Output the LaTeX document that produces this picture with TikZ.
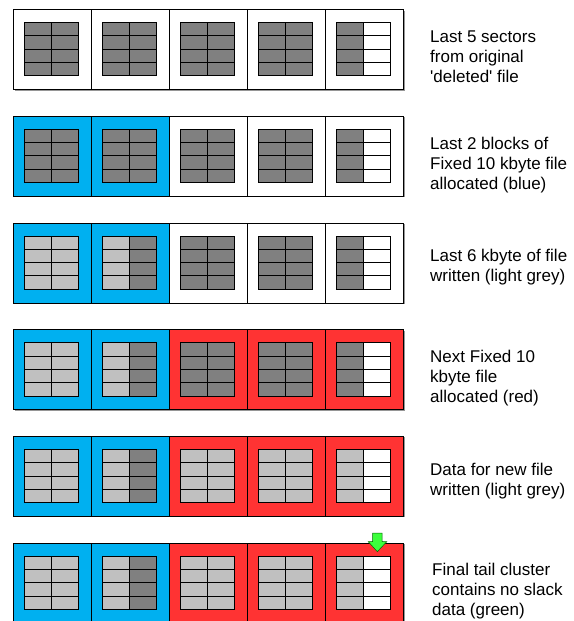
\documentclass[tikz,border=0pt]{standalone}
\usepackage{fontspec}
\setmainfont{Liberation Sans}[Ligatures=TeXOff]
\definecolor{cblue}{RGB}{0,176,240}
\definecolor{cred}{RGB}{255,51,51}
\definecolor{cdark}{RGB}{128,128,128}
\definecolor{clight}{RGB}{192,192,192}
\definecolor{cgreen}{RGB}{60,255,60}
\definecolor{cshadow}{RGB}{150,150,150}
\tikzset{
  cellbox/.style={draw=black, line width=0.9pt, minimum width=78pt, minimum height=80pt, inner sep=0pt, anchor=north west},
  gridline/.style={draw=black, line width=1pt},
  label/.style={anchor=base west, align=left, inner sep=0pt, font=\fontsize{17}{20}\selectfont},
  arrowshape/.style={fill=cgreen, draw=green!40!black, line width=0.5pt}
}
\newcommand\sectorcell[6]{%
  \pgfmathsetmacro\cx{13.3+78*#1}%
  \node[cellbox, fill=#3] (#6) at (\cx,#2) {};
  \fill[#4] (\cx+11,#2+13.3) rectangle ++(27,53.3);
  \fill[#5] (\cx+38,#2+13.3) rectangle ++(27,53.3);
  \draw[gridline] (\cx+11,#2+13.3) rectangle ++(54,53.3);
  \draw[gridline] (\cx+38,#2+13.3) -- ++(0,53.3);
  \foreach \k in {1,2,3} {\draw[gridline] (\cx+11,#2+13.3+13.33*\k) -- ++(54,0);}
}
\newcommand\rowshadow[1]{\fill[cshadow] (14.6,#1+1.3) rectangle ++(390,80);}
\begin{document}
\begin{tikzpicture}[x=1pt,y=-1pt]
\useasboundingbox (0,0) rectangle (573,621);
% Row 1
\def\T{9.3}
\rowshadow{\T}
\sectorcell{0}{\T}{white}{cdark}{cdark}{a1}
\sectorcell{1}{\T}{white}{cdark}{cdark}{a2}
\sectorcell{2}{\T}{white}{cdark}{cdark}{a3}
\sectorcell{3}{\T}{white}{cdark}{cdark}{a4}
\sectorcell{4}{\T}{white}{cdark}{white}{a5}
\node[label] (la) at (430,\T+73.4) {Last 5 sectors\\from original\\'deleted' file};
% Row 2
\def\T{116}
\rowshadow{\T}
\sectorcell{0}{\T}{cblue}{cdark}{cdark}{b1}
\sectorcell{1}{\T}{cblue}{cdark}{cdark}{b2}
\sectorcell{2}{\T}{white}{cdark}{cdark}{b3}
\sectorcell{3}{\T}{white}{cdark}{cdark}{b4}
\sectorcell{4}{\T}{white}{cdark}{white}{b5}
\node[label] (lb) at (430,\T+73.4) {Last 2 blocks of\\Fixed 10 kbyte file\\allocated (blue)};
% Row 3
\def\T{222.7}
\rowshadow{\T}
\sectorcell{0}{\T}{cblue}{clight}{clight}{c1}
\sectorcell{1}{\T}{cblue}{clight}{cdark}{c2}
\sectorcell{2}{\T}{white}{cdark}{cdark}{c3}
\sectorcell{3}{\T}{white}{cdark}{cdark}{c4}
\sectorcell{4}{\T}{white}{cdark}{white}{c5}
\node[label] (lc) at (430,\T+59) {Last 6 kbyte of file\\written (light grey)};
% Row 4
\def\T{329.4}
\rowshadow{\T}
\sectorcell{0}{\T}{cblue}{clight}{clight}{d1}
\sectorcell{1}{\T}{cblue}{clight}{cdark}{d2}
\sectorcell{2}{\T}{cred}{cdark}{cdark}{d3}
\sectorcell{3}{\T}{cred}{cdark}{cdark}{d4}
\sectorcell{4}{\T}{cred}{cdark}{white}{d5}
\node[label] (ld) at (430,\T+73.4) {Next Fixed 10\\kbyte file\\allocated (red)};
% Row 5
\def\T{436.1}
\rowshadow{\T}
\sectorcell{0}{\T}{cblue}{clight}{clight}{e1}
\sectorcell{1}{\T}{cblue}{clight}{cdark}{e2}
\sectorcell{2}{\T}{cred}{clight}{clight}{e3}
\sectorcell{3}{\T}{cred}{clight}{clight}{e4}
\sectorcell{4}{\T}{cred}{clight}{white}{e5}
\node[label] (le) at (430,\T+59) {Data for new file\\written (light grey)};
% Row 6
\def\T{542.8}
\rowshadow{\T}
\sectorcell{0}{\T}{cblue}{clight}{clight}{f1}
\sectorcell{1}{\T}{cblue}{clight}{cdark}{f2}
\sectorcell{2}{\T}{cred}{clight}{clight}{f3}
\sectorcell{3}{\T}{cred}{clight}{clight}{f4}
\sectorcell{4}{\T}{cred}{clight}{white}{f5}
\node[label] (lf) at (432,\T+72.5) {Final tail cluster\\contains no slack\\data (green)};
% green arrow
\draw[arrowshape] (372.7,533) -- (382,533) -- (382,541.7) -- (386.7,541.7) -- (377.3,551.7) -- (368.3,541.7) -- (372.7,541.7) -- cycle;
\end{tikzpicture}
\end{document}
